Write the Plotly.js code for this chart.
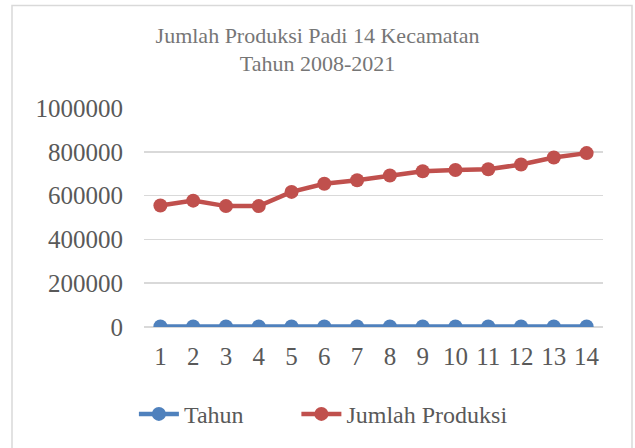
<!DOCTYPE html>
<html>
<head>
<meta charset="utf-8">
<script src="https://cdn.plot.ly/plotly-3.0.1.min.js"></script>
<style>html,body{margin:0;padding:0;background:#fff;}#chart{width:635px;height:448px;}</style>
</head>
<body>
<div id="chart"></div>
<script>
var categories = ['1','2','3','4','5','6','7','8','9','10','11','12','13','14'];
var tahun = [2008,2009,2010,2011,2012,2013,2014,2015,2016,2017,2018,2019,2020,2021];
var produksi = [555000,577000,552000,552000,617000,654000,670000,692000,711000,717000,720000,742000,774000,794000];
var yTicks = [0,200000,400000,600000,800000,1000000];

var font = 'Liberation Serif, Times New Roman, serif';

var traces = [
  {x: categories, y: tahun, name: 'Tahun', type: 'scatter', mode: 'lines+markers', legend: 'legend',
   line: {color: '#4F81BD', width: 4.5}, marker: {color: '#4F81BD', size: 14}},
  {x: categories, y: produksi, name: 'Jumlah Produksi', type: 'scatter', mode: 'lines+markers', legend: 'legend2',
   line: {color: '#C0504D', width: 4.5}, marker: {color: '#C0504D', size: 14}}
];

var legendStyle = function (x) {
  return {orientation: 'h', x: x, xanchor: 'left', y: -0.29, yanchor: 'top',
          font: {size: 24, color: '#595959'}, itemwidth: 40, bgcolor: 'rgba(0,0,0,0)'};
};

var layout = {
  width: 635, height: 448,
  margin: {l: 144, r: 32, t: 108, b: 120},
  paper_bgcolor: '#ffffff', plot_bgcolor: '#ffffff',
  font: {family: font, color: '#595959'},
  title: {text: 'Jumlah Produksi Padi 14 Kecamatan<br>Tahun 2008-2021',
          font: {family: font, size: 22, color: '#767676'},
          x: 0.5, xanchor: 'center', y: 0.905, yanchor: 'top'},
  xaxis: {type: 'category', tickfont: {size: 25, color: '#595959'},
          showgrid: false, showline: false, zeroline: false, ticks: '', ticklen: 0,
          ticklabelstandoff: 12, range: [-0.5, 13.5], fixedrange: true, automargin: false},
  yaxis: {range: [0, 1000000], tickvals: yTicks, ticktext: yTicks.map(String),
          tickfont: {size: 25, color: '#595959'}, showgrid: true, gridcolor: '#d9d9d9', gridwidth: 1.5,
          zeroline: true, zerolinecolor: '#d9d9d9', zerolinewidth: 1.5, showline: false, ticks: '',
          ticklabelstandoff: 20, automargin: false},
  legend: legendStyle(-0.022),
  legend2: legendStyle(0.332),
  showlegend: true,
  shapes: [{type: 'rect', xref: 'paper', yref: 'paper',
            x0: (12 - 144) / 459, x1: (632 - 144) / 459,
            y0: (328 - 460) / 220, y1: (328 - 5) / 220,
            line: {color: '#d9d9d9', width: 1.5}, fillcolor: 'rgba(0,0,0,0)', layer: 'above'}]
};

Plotly.newPlot('chart', traces, layout, {displayModeBar: false, staticPlot: true});
</script>
</body>
</html>
